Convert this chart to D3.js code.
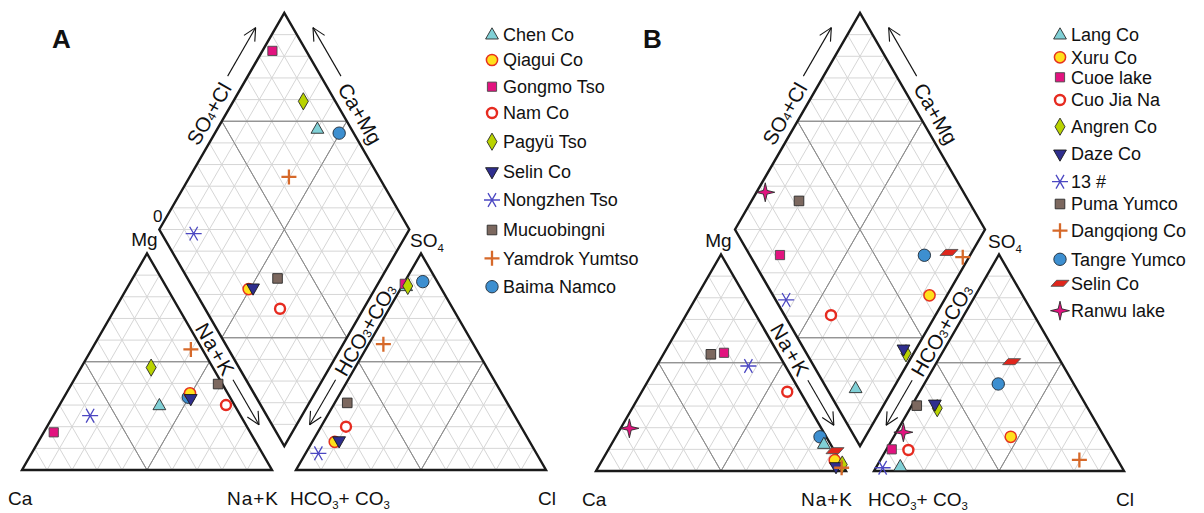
<!DOCTYPE html>
<html>
<head>
<meta charset="utf-8">
<script src="https://cdn.jsdelivr.net/npm/d3@7"></script>
<style>
  body { margin: 0; background: #fff; }
  svg text { font-family: "Liberation Sans", Arial, Helvetica, sans-serif; fill: #111; }
</style>
</head>
<body>
<svg id="chart" width="1204" height="513"></svg>
<script>
// ---------------- Panel A: lake waters (meq %) ----------------
const lakesA  = ["Chen Co", "Qiagui Co", "Gongmo Tso", "Nam Co", "Pagyü Tso", "Selin Co",
                 "Nongzhen Tso", "Mucuobingni", "Yamdrok Yumtso", "Baima Namco"];
const symbolsA = ["triCyan", "circleYellow", "squareMagenta", "ringRed", "diamondGreen", "triNavy",
                  "asterisk", "squareBrown", "plusOrange", "circleBlue"];
const mgA   = [29.7, 35.4, 17.4, 30.0, 47.3, 33.0, 25.1, 39.7, 55.7, 33.6];
const nakA  = [40.1, 49.5,  4.0, 66.6, 28.0, 51.0, 14.7, 58.6, 39.7, 49.7];
const so4A  = [84.7, 13.0, 86.0, 20.0, 85.0, 13.5,  7.7, 31.0, 58.1, 87.0];
const clA   = [ 1.7,  9.0,  0.5, 10.0,  2.2, 10.5,  5.1,  5.0,  5.9,  7.2];

// ---------------- Panel B: lake waters (meq %) ----------------
const lakesB  = ["Lang Co", "Xuru Co", "Cuoe lake", "Cuo Jia Na", "Angren Co", "Daze Co", "13 #",
                 "Puma Yumco", "Dangqiong Co", "Tangre Yumco", "Selin Co", "Ranwu lake"];
const symbolsB = ["triCyan", "circleYellow", "squareMagenta", "ringRed", "diamondGreen", "triNavy",
                  "asterisk", "squareBrown", "plusOrange", "circleBlue", "paraRed", "starMagenta"];
const mgB   = [12.3,  5.0, 54.6, 36.6,  3.0,  2.0, 48.5, 53.9,  1.5, 15.8,  9.4, 19.7];
const nakB  = [85.0, 93.0, 23.9, 58.2, 97.0, 95.0, 36.7, 19.0, 97.5, 81.7, 90.9,  3.5];
const so4B  = [ 2.0, 15.8, 10.0,  9.7, 29.0, 30.9,  1.5, 30.2,  5.1, 40.2, 50.5, 17.9];
const clB   = [ 9.5, 46.8,  2.1,  8.9, 10.8,  8.9,  2.7,  2.0, 79.6, 29.6, 29.8,  2.8];

// layout of the two panels and their legends
const layoutA = { catLeft: 22,  anLeft: 296, base: 470, side: 250, dCx: 284.3, dCy: 229.5,
                  tag: "A", tagX: 52, legX: 492, legRows: [35, 60, 86.7, 113, 141.7, 171.7, 200, 230, 258.3, 286.7],
                  zero: true, order: [9, 0, 1, 2, 3, 4, 5, 6, 7, 8] };
const layoutB = { catLeft: 596, anLeft: 874, base: 471, side: 250, dCx: 860, dCy: 229.5,
                  tag: "B", tagX: 643, legX: 1060, legRows: [35, 57.3, 77.3, 100, 126.7, 154, 181.7, 204, 230.7, 259.3, 283.3, 310.7],
                  zero: false, order: [9, 0, 1, 2, 3, 4, 5, 6, 7, 8, 10, 11] };

const svg = d3.select("#chart");

// ---------------- marker styles ----------------
const S3 = Math.sqrt(3);
function star4(r, ri) {
  const pts = [];
  for (let i = 0; i < 8; i++) {
    const ang = -Math.PI / 2 + i * Math.PI / 4;
    const rr = i % 2 === 0 ? r : ri;
    pts.push([rr * Math.cos(ang), rr * Math.sin(ang)]);
  }
  return "M" + pts.map(p => p.join(",")).join("L") + "Z";
}
const markerStyles = {
  triCyan:       { d: "M0,-7.2L6.4,4L-6.4,4Z", fill: "#80d0d6", stroke: "#2a2a2a", sw: 0.9 },
  triNavy:       { d: "M0,7.2L6.4,-4L-6.4,-4Z", fill: "#2f2e8e", stroke: "#1a1a1a", sw: 0.9 },
  circleYellow:  { d: d3.symbol(d3.symbolCircle, Math.PI * 5.6 * 5.6)(), fill: "#ffe01c", stroke: "#e5321f", sw: 1.5 },
  circleBlue:    { d: d3.symbol(d3.symbolCircle, Math.PI * 6.2 * 6.2)(), fill: "#3d8fd0", stroke: "#1f2a36", sw: 0.9 },
  ringRed:       { d: d3.symbol(d3.symbolCircle, Math.PI * 5 * 5)(), fill: "#fff", stroke: "#e62b20", sw: 2.4 },
  squareMagenta: { d: "M-4.6,-4.6h9.2v9.2h-9.2Z", fill: "#e2137f", stroke: "#4a4a4a", sw: 0.9 },
  squareBrown:   { d: "M-4.8,-4.8h9.6v9.6h-9.6Z", fill: "#7c685f", stroke: "#2a2a2a", sw: 0.9 },
  diamondGreen:  { d: "M0,-8.6L5,0L0,8.6L-5,0Z", fill: "#b9d300", stroke: "#2a2a2a", sw: 0.9 },
  plusOrange:    { d: "M-7.5,0H7.5M0,-7.5V7.5", fill: "none", stroke: "#d6692a", sw: 2.3 },
  asterisk:      { d: "M-8,0H8M-4,-6.9L4,6.9M4,-6.9L-4,6.9", fill: "none", stroke: "#4b47c2", sw: 1.3 },
  paraRed:       { d: "M-3.5,-3L9,-3L3.5,3L-9,3Z", fill: "#e0261c", stroke: "#555", sw: 0.9 },
  starMagenta:   { d: star4(9.5, 2.6), fill: "#e2137f", stroke: "#2a2a2a", sw: 0.9 }
};
function drawMarker(g, key, x, y) {
  const st = markerStyles[key];
  g.append("path")
    .attr("d", st.d)
    .attr("transform", `translate(${x},${y})`)
    .attr("fill", st.fill)
    .attr("stroke", st.stroke)
    .attr("stroke-width", st.sw)
    .attr("stroke-linejoin", "miter");
}

// open arrow: shaft p0 -> p1 with a chevron at p1
function arrow(g, p0, p1) {
  g.append("line").attr("x1", p0[0]).attr("y1", p0[1]).attr("x2", p1[0]).attr("y2", p1[1])
    .attr("stroke", "#111").attr("stroke-width", 1.1);
  const ang = Math.atan2(p0[1] - p1[1], p0[0] - p1[0]);
  const L = 14, spread = 0.46;
  [ang - spread, ang + spread].forEach(a => {
    g.append("line").attr("x1", p1[0]).attr("y1", p1[1])
      .attr("x2", p1[0] + L * Math.cos(a)).attr("y2", p1[1] + L * Math.sin(a))
      .attr("stroke", "#111").attr("stroke-width", 1.1);
  });
}

// text with chemical subscripts: parts = [[str, isSub], ...]
function chemText(g, parts, size) {
  const t = g.append("text").attr("font-size", size);
  parts.forEach(([s, sub], i) => {
    const prevSub = i > 0 && parts[i - 1][1];
    const ts = t.append("tspan").text(s);
    if (sub) ts.attr("font-size", size * 0.6).attr("dy", size * 0.22);
    else if (prevSub) ts.attr("dy", -size * 0.22);
  });
  return t;
}

const add = (p, v, k) => [p[0] + v[0] * k, p[1] + v[1] * k];

function drawPanel(cfg, lakes, symbols, mg, nak, so4, cl) {
  const g = svg.append("g");
  const s = cfg.side, h = s * S3 / 2;

  // scales for the two ternary triangles and the central diamond
  const xc = d3.scaleLinear().domain([0, 100]).range([cfg.catLeft, cfg.catLeft + s]);
  const xa = d3.scaleLinear().domain([0, 100]).range([cfg.anLeft, cfg.anLeft + s]);
  const yt = d3.scaleLinear().domain([0, 100]).range([cfg.base, cfg.base - h]);
  const xd = d3.scaleLinear().domain([0, 200]).range([cfg.dCx - s / 2, cfg.dCx + s / 2]);
  const yd = d3.scaleLinear().domain([-100, 100]).range([cfg.dCy + h, cfg.dCy - h]);

  const catPt = (m, n) => [xc(n + m / 2), yt(m)];        // m = Mg, n = Na+K
  const anPt  = (su, c) => [xa(c + su / 2), yt(su)];      // su = SO4, c = Cl
  const diaPt = (a, c) => [xd(a + c), yd(a - c)];         // a = SO4+Cl, c = Na+K

  const line = d3.line();
  const light = "#d6d6d6", mid = "#8e8e8e";

  // ---- grids ----
  const gridG = g.append("g").attr("fill", "none").attr("stroke-width", 1);
  const ticks = d3.range(10, 100, 10);
  [[catPt], [anPt]].forEach(([pt]) => {
    ticks.forEach(v => {
      const col = v === 50 ? mid : light;
      gridG.append("path").attr("stroke", col).attr("d", line([pt(v, 0), pt(v, 100 - v)]));
      gridG.append("path").attr("stroke", col).attr("d", line([pt(0, v), pt(100 - v, v)]));
      gridG.append("path").attr("stroke", col).attr("d", line([pt(0, 100 - v), pt(100 - v, 0)]));
    });
  });
  const dTicks = d3.range(10, 100, 10);
  dTicks.forEach(v => {
    const col = v === 50 ? mid : light;
    gridG.append("path").attr("stroke", col).attr("d", line([diaPt(v, 0), diaPt(v, 100)]));
    gridG.append("path").attr("stroke", col).attr("d", line([diaPt(0, v), diaPt(100, v)]));
  });
  d3.range(-90, 100, 10).forEach(d => {
    const col = Math.abs(d) === 50 ? mid : light;
    const ends = d >= 0 ? [diaPt(d, 0), diaPt(100, 100 - d)] : [diaPt(0, -d), diaPt(100 + d, 100)];
    gridG.append("path").attr("stroke", col).attr("d", line(ends));
  });
  // medial lines that run across the grid drawn on top in darker grey
  const medG = g.append("g").attr("fill", "none").attr("stroke", mid).attr("stroke-width", 1);
  [catPt, anPt].forEach(pt => {
    medG.append("path").attr("d", line([pt(50, 0), pt(50, 50)]));
    medG.append("path").attr("d", line([pt(0, 50), pt(50, 50)]));
    medG.append("path").attr("d", line([pt(0, 50), pt(50, 0)]));
  });
  medG.append("path").attr("d", line([diaPt(50, 0), diaPt(50, 100)]));
  medG.append("path").attr("d", line([diaPt(0, 50), diaPt(100, 50)]));
  medG.append("path").attr("d", line([diaPt(50, 0), diaPt(100, 50)]));
  medG.append("path").attr("d", line([diaPt(0, 50), diaPt(50, 100)]));

  // ---- outlines ----
  const outG = g.append("g").attr("fill", "none").attr("stroke", "#1a1a1a")
    .attr("stroke-width", 2.4).attr("stroke-linejoin", "miter");
  outG.append("path").attr("d", line([catPt(0, 0), catPt(0, 100), catPt(100, 0)]) + "Z");
  outG.append("path").attr("d", line([anPt(0, 0), anPt(0, 100), anPt(100, 0)]) + "Z");
  outG.append("path").attr("d", line([diaPt(0, 0), diaPt(100, 0), diaPt(100, 100), diaPt(0, 100)]) + "Z");

  // ---- samples ----
  const mk = g.append("g");
  cfg.order.forEach(i => {
    const key = symbols[i];
    const p1 = catPt(mg[i], nak[i]);
    const p2 = anPt(so4[i], cl[i]);
    const p3 = diaPt(so4[i] + cl[i], nak[i]);
    drawMarker(mk, key, p1[0], p1[1]);
    drawMarker(mk, key, p2[0], p2[1]);
    drawMarker(mk, key, p3[0], p3[1]);
  });

  // ---- vertex labels ----
  const lab = g.append("g");
  const fs = 19;
  lab.append("text").attr("x", cfg.catLeft - 14).attr("y", cfg.base + 35).attr("font-size", fs).text("Ca");
  lab.append("text").attr("x", cfg.catLeft + s + 7).attr("y", cfg.base + 35).attr("font-size", fs)
    .attr("text-anchor", "end").attr("letter-spacing", 1).text("Na+K");
  chemText(lab, [["HCO", 0], ["3", 1], ["+ CO", 0], ["3", 1]], fs)
    .attr("x", cfg.anLeft - 6).attr("y", cfg.base + 35);
  lab.append("text").attr("x", cfg.anLeft + s - 8).attr("y", cfg.base + 35).attr("font-size", fs).text("Cl");
  const cTop = catPt(100, 0), aTop = anPt(100, 0);
  lab.append("text").attr("x", cTop[0] - 2.5).attr("y", cTop[1] - 7).attr("font-size", fs)
    .attr("text-anchor", "middle").text("Mg");
  chemText(lab, [["SO", 0], ["4", 1]], fs).attr("x", aTop[0] - 11).attr("y", aTop[1] - 6);
  const Lv = diaPt(0, 0), Tv = diaPt(100, 0), Rv = diaPt(100, 100), Bv = diaPt(0, 100);
  if (cfg.zero) {
    lab.append("text").attr("x", Lv[0] - 1.5).attr("y", Lv[1] - 8).attr("font-size", 17)
      .attr("text-anchor", "middle").text("0");
  }
  lab.append("text").attr("x", cfg.tagX).attr("y", 48).attr("font-size", 26)
    .attr("font-weight", "bold").text(cfg.tag);

  // ---- diamond axis labels with arrows ----
  const r3 = S3 / 2;
  const uUL = [0.5, -r3], nUL = [-r3, -0.5];     // upper-left edge, outward normal
  const uUR = [-0.5, -r3], nUR = [r3, -0.5];     // upper-right edge, outward normal
  const uLL = [0.5, r3], nLL = [-r3, 0.5];       // lower-left edge, toward cation triangle
  const uLR = [-0.5, r3], nLR = [r3, 0.5];       // lower-right edge, toward anion triangle
  const catRight = catPt(0, 100);
  const half = Math.abs((Bv[0] - catRight[0]) * r3 - (Bv[1] - catRight[1]) * 0.5) / 2;
  const rf = 20.5;

  let c = add(add(Lv, uUL, 125), nUL, 15.5);
  chemText(lab, [["SO", 0], ["4", 1], ["+Cl", 0]], rf)
    .attr("text-anchor", "middle").attr("dominant-baseline", "central")
    .attr("transform", `translate(${c[0]},${c[1]}) rotate(-60)`);
  arrow(lab, add(add(Lv, uUL, 167), nUL, 17.5), add(add(Lv, uUL, 223), nUL, 17.5));

  c = add(add(Rv, uUR, 125), nUR, 15.5);
  lab.append("text").attr("font-size", rf).text("Ca+Mg")
    .attr("text-anchor", "middle").attr("dominant-baseline", "central")
    .attr("transform", `translate(${c[0]},${c[1]}) rotate(60)`);
  arrow(lab, add(add(Rv, uUR, 167), nUR, 17.5), add(add(Rv, uUR, 223), nUR, 17.5));

  c = add(add(Lv, uLL, 132), nLL, half);
  lab.append("text").attr("font-size", rf).text("Na+K").attr("letter-spacing", 1.5)
    .attr("text-anchor", "middle").attr("dominant-baseline", "central")
    .attr("transform", `translate(${c[0]},${c[1]}) rotate(60)`);
  arrow(lab, add(add(Lv, uLL, 167), nLL, half), add(add(Lv, uLL, 219), nLL, half));

  c = add(add(Rv, uLR, 109), nLR, half);
  chemText(lab, [["HCO", 0], ["3", 1], ["+CO", 0], ["3", 1]], rf)
    .attr("text-anchor", "middle").attr("dominant-baseline", "central")
    .attr("transform", `translate(${c[0]},${c[1]}) rotate(-60)`);
  arrow(lab, add(add(Rv, uLR, 167), nLR, half), add(add(Rv, uLR, 219), nLR, half));

  // ---- legend ----
  const leg = g.append("g");
  lakes.forEach((name, i) => {
    const y = cfg.legRows[i];
    drawMarker(leg, symbols[i], cfg.legX, y);
    leg.append("text").attr("x", cfg.legX + 11).attr("y", y + 6.3).attr("font-size", 18).text(name);
  });
}

drawPanel(layoutA, lakesA, symbolsA, mgA, nakA, so4A, clA);
drawPanel(layoutB, lakesB, symbolsB, mgB, nakB, so4B, clB);
</script>
</body>
</html>
